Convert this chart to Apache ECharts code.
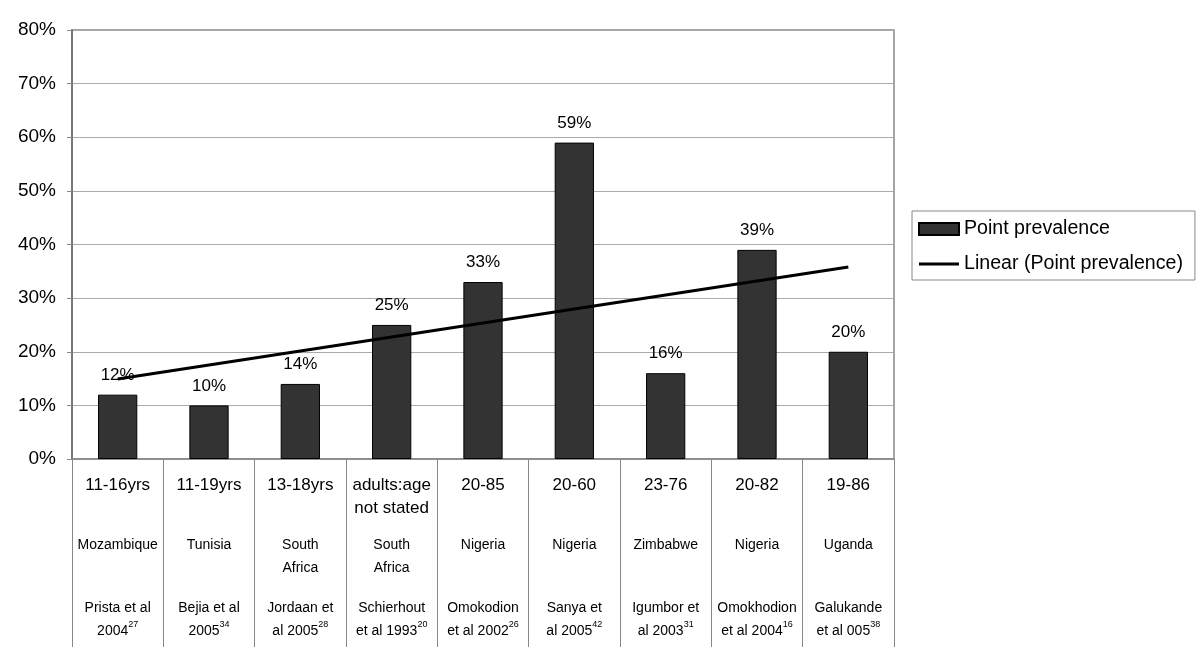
<!DOCTYPE html>
<html>
<head>
<meta charset="utf-8">
<script src="https://cdn.jsdelivr.net/npm/echarts@6/dist/echarts.min.js"></script>
<style>html,body{margin:0;padding:0;background:#fff}#c{width:1200px;height:656px}</style>
</head>
<body>
<div id="c"></div>
<script>
// ---- data ----
var ages = ['11-16yrs', '11-19yrs', '13-18yrs', 'adults:age\nnot stated', '20-85', '20-60', '23-76', '20-82', '19-86'];
var countries = ['Mozambique', 'Tunisia', 'South\nAfrica', 'South\nAfrica', 'Nigeria', 'Nigeria', 'Zimbabwe', 'Nigeria', 'Uganda'];
var refLine1 = ['Prista et al', 'Bejia et al', 'Jordaan et', 'Schierhout', 'Omokodion', 'Sanya et', 'Igumbor et', 'Omokhodion', 'Galukande'];
var refLine2 = ['2004', '2005', 'al 2005', 'et al 1993', 'et al 2002', 'al 2005', 'al 2003', 'et al 2004', 'et al 005'];
var refNums = ['27', '34', '28', '20', '26', '42', '31', '16', '38'];
var prevalence = [12, 10, 14, 25, 33, 59, 16, 39, 20];
// linear trend line endpoints (first and last category)
var trendStart = 14.9;
var trendEnd = 35.8;

var FONT = 'Liberation Sans, Arial, Helvetica, sans-serif';

function two(s) {
  var p = s.split('\n');
  return [p[0], p.length > 1 ? p[1] : ' '];
}
function labelFor(i) {
  var a = two(ages[i]);
  var c = two(countries[i]);
  return '{age|' + a[0] + '}\n' +
         '{age|' + a[1] + '}\n' +
         '{gap1| }\n' +
         '{ctry|' + c[0] + '}\n' +
         '{ctry|' + c[1] + '}\n' +
         '{gap2| }\n' +
         '{ref|' + refLine1[i] + '}\n' +
         '{ref|' + refLine2[i] + '}{sup|' + refNums[i] + '}';
}

var chart = echarts.init(document.getElementById('c'), null, {renderer: 'canvas'});
chart.setOption({
  animation: false,
  textStyle: {fontFamily: FONT},
  grid: {left: 72, right: 306, top: 30, bottom: 197, show: true, borderColor: '#888', borderWidth: 1.5},
  legend: {
    orient: 'vertical',
    left: 912, top: 211,
    padding: [8, 12, 6, 6],
    borderColor: '#888', borderWidth: 1,
    itemWidth: 40, itemHeight: 12, itemGap: 15,
    textStyle: {fontSize: 19.6, color: '#000', fontFamily: FONT},
    data: [
      {name: 'Point prevalence', icon: 'rect'},
      {name: 'Linear (Point prevalence)', icon: 'path://M0,4.5 L40,4.5 L40,7.5 L0,7.5 Z M0,0 L0.001,0 L0,0 Z M0,12 L0.001,12 L0,12 Z',
       itemStyle: {color: '#000', borderWidth: 0}}
    ]
  },
  xAxis: {
    type: 'category',
    data: ages,
    boundaryGap: true,
    axisLine: {lineStyle: {color: '#888', width: 1.5}},
    axisTick: {show: true, length: 188, lineStyle: {color: '#888', width: 1}},
    axisLabel: {
      interval: 0,
      margin: 15,
      verticalAlign: 'top',
      color: '#000',
      formatter: function (v, i) { return labelFor(i); },
      rich: {
        age: {fontSize: 17, lineHeight: 23, color: '#000', fontFamily: FONT},
        gap1: {fontSize: 8, lineHeight: 14},
        ctry: {fontSize: 14, lineHeight: 23, color: '#000', fontFamily: FONT},
        gap2: {fontSize: 8, lineHeight: 17},
        ref: {fontSize: 14, lineHeight: 23, color: '#000', fontFamily: FONT},
        sup: {fontSize: 9, lineHeight: 23, color: '#000', padding: [0, 0, 13, 0], fontFamily: FONT}
      }
    },
    splitLine: {show: false}
  },
  yAxis: {
    type: 'value',
    min: 0, max: 80, interval: 10,
    axisLine: {show: true, lineStyle: {color: '#777', width: 2}},
    axisTick: {show: true, length: 5, lineStyle: {color: '#888'}},
    axisLabel: {fontSize: 19, color: '#000', margin: 16, formatter: '{value}%'},
    splitLine: {lineStyle: {color: '#aaa', width: 1}}
  },
  series: [
    {
      name: 'Point prevalence',
      type: 'bar',
      data: prevalence,
      barWidth: '43%',
      itemStyle: {color: '#333', borderColor: '#000', borderWidth: 1},
      label: {show: true, position: 'top', distance: 11, fontSize: 17, color: '#000', formatter: '{c}%'},
      z: 2
    },
    {
      name: 'Linear (Point prevalence)',
      type: 'line',
      data: [[0, trendStart], [8, trendEnd]],
      symbol: 'none',
      lineStyle: {color: '#000', width: 3},
      itemStyle: {color: '#000'},
      z: 5
    }
  ]
});
</script>
</body>
</html>
